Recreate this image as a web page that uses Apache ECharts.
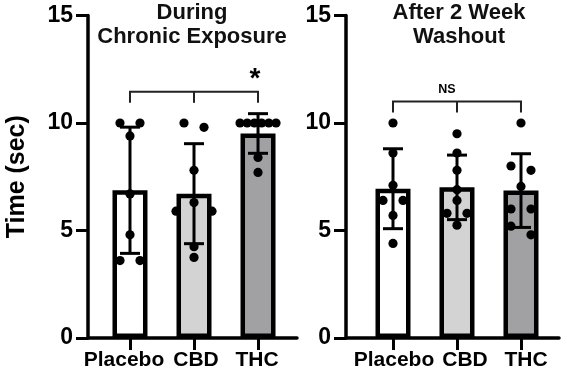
<!DOCTYPE html>
<html><head><meta charset="utf-8">
<script src="https://cdn.jsdelivr.net/npm/echarts@6/dist/echarts.min.js"></script>
<style>html,body{margin:0;padding:0;background:#fff}#c{width:567px;height:374px}</style>
</head><body><div id="c"></div>
<script>
// ---- data ----
const categories = ['Placebo', 'CBD', 'THC'];
const yTicks = [0, 5, 10, 15];
const panelTitles = ['During\nChronic Exposure', 'After 2 Week\nWashout'];
const yAxisTitle = 'Time (sec)';
// individual values (sec)
const chronicPlacebo = [10, 10, 9.4, 6.7, 4.8, 3.6, 3.6];
const chronicCBD = [10, 9.8, 7.8, 6.3, 5.9, 5.9, 4.25, 3.75];
const chronicTHC = [10, 10, 10, 10, 10, 10, 8.4, 7.7];
const washoutPlacebo = [10, 8.6, 7.1, 6.4, 6.4, 5.7, 4.4];
const washoutCBD = [9.5, 8.6, 7.8, 6.9, 6.4, 5.8, 5.8, 5.25];
const washoutTHC = [10, 8.0, 7.8, 7.05, 6.0, 6.0, 5.2, 4.8];
const significanceLabels = ['*', 'NS'];
const bracketLevels = [11.45, 11.0];

// ---- styling ----
const FONT = '"Liberation Sans", Arial, sans-serif';
const barColors = ['#ffffff', '#d3d3d3', '#a1a1a4'];
const panels = [
  { groups: [chronicPlacebo, chronicCBD, chronicTHC], grid: { left: 88, right: 270, top: 15.5, bottom: 36 }, xMin: 0.344, xMax: 3.609, titleX: 192, labelShift: [-6, 2, -1], sigDX: -3, sigDY: -27, sigFont: 28 },
  { groups: [washoutPlacebo, washoutCBD, washoutTHC], grid: { left: 346, right: 8, top: 15.5, bottom: 36 }, xMin: 0.2656, xMax: 3.594, titleX: 459, labelShift: [1, 8, 5], sigDX: -10, sigDY: -12, sigFont: 12.5 }
];

function mean(a) { return a.reduce((s, v) => s + v, 0) / a.length; }
function sd(a) { const m = mean(a); return Math.sqrt(a.reduce((s, v) => s + (v - m) * (v - m), 0) / (a.length - 1)); }

// symmetric row-based dot layout (pixel offsets computed from values)
function swarm(vals) {
  const sorted = vals.slice().sort((a, b) => b - a);
  const rows = [];
  sorted.forEach(v => {
    const r = rows[rows.length - 1];
    if (r && r[0] - v < 0.45) r.push(v); else rows.push([v]);
  });
  const out = [];
  rows.forEach(r => {
    const n = r.length;
    if (n === 1) { out.push([r[0], 0]); return; }
    const width = Math.min((n - 1) * 20, 36);
    const step = width / (n - 1);
    const offs = [];
    for (let i = 0; i < n; i++) offs.push((i - (n - 1) / 2) * step);
    offs.sort((a, b) => Math.abs(a) - Math.abs(b) || a - b);
    r.forEach((v, i) => out.push([v, offs[i]]));
  });
  return out;
}

const grids = [], xAxes = [], yAxes = [], series = [], titles = [];
panels.forEach((p, pi) => {
  grids.push(p.grid);
  const rich = {};
  p.labelShift.forEach((s, i) => {
    rich['c' + i] = { fontSize: 21, fontWeight: 'bold', color: '#000', fontFamily: FONT,
      padding: s >= 0 ? [0, 0, 0, 2 * s] : [0, -2 * s, 0, 0] };
  });
  xAxes.push({
    type: 'value', gridIndex: pi, min: p.xMin, max: p.xMax,
    axisLine: { show: true, onZero: true, lineStyle: { color: '#000', width: 3.5 } },
    axisTick: { show: true, customValues: [1, 2, 3], length: 12, lineStyle: { color: '#000', width: 3 } },
    axisLabel: { show: true, customValues: [1, 2, 3], hideOverlap: false, showMinLabel: true, showMaxLabel: true,
      formatter: v => { const i = Math.round(v) - 1; return '{c' + i + '|' + categories[i] + '}'; },
      rich: rich, margin: 12,
      fontSize: 21, fontWeight: 'bold', color: '#000', fontFamily: FONT },
    splitLine: { show: false }
  });
  yAxes.push({
    type: 'value', gridIndex: pi, min: yTicks[0], max: yTicks[yTicks.length - 1], interval: 5,
    name: pi === 0 ? yAxisTitle : '', nameLocation: 'middle', nameGap: 58,
    nameTextStyle: { fontSize: 25, fontWeight: 'bold', color: '#000', fontFamily: FONT },
    axisLine: { show: true, onZero: false, lineStyle: { color: '#000', width: 3.5 } },
    axisTick: { show: true, length: 12, lineStyle: { color: '#000', width: 3 } },
    axisLabel: { margin: 15, hideOverlap: false, fontSize: 23, fontWeight: 'bold', color: '#000', fontFamily: FONT },
    splitLine: { show: false }
  });
  titles.push({
    text: panelTitles[pi], left: p.titleX, top: 1, textAlign: 'center', padding: 0,
    textStyle: { fontSize: 22, fontWeight: 'bold', color: '#111', lineHeight: 24, fontFamily: FONT }
  });

  // bars
  series.push({
    type: 'bar', xAxisIndex: pi, yAxisIndex: pi, barWidth: 35, z: 2,
    data: p.groups.map((g, i) => ({ value: [i + 1, mean(g)], itemStyle: { color: barColors[i] } })),
    itemStyle: { borderColor: '#000', borderWidth: 4.5 }
  });
  // error bars (mean ± SD)
  series.push({
    type: 'custom', xAxisIndex: pi, yAxisIndex: pi, z: 3,
    data: p.groups.map((g, i) => [i + 1, mean(g), sd(g)]),
    renderItem: (params, api) => {
      const x = api.value(0), m = api.value(1), s = api.value(2);
      const t = api.coord([x, m + s]), b = api.coord([x, m - s]);
      const hw = 10, st = { stroke: '#000', lineWidth: 3 };
      return { type: 'group', children: [
        { type: 'line', shape: { x1: t[0], y1: t[1], x2: b[0], y2: b[1] }, style: st },
        { type: 'line', shape: { x1: t[0] - hw, y1: t[1], x2: t[0] + hw, y2: t[1] }, style: st },
        { type: 'line', shape: { x1: b[0] - hw, y1: b[1], x2: b[0] + hw, y2: b[1] }, style: st }
      ] };
    }
  });
  // individual points
  const dots = [];
  p.groups.forEach((g, i) => swarm(g).forEach(([v, off]) => dots.push([i + 1, v, off])));
  series.push({
    type: 'custom', xAxisIndex: pi, yAxisIndex: pi, z: 4,
    data: dots,
    renderItem: (params, api) => {
      const c = api.coord([api.value(0), api.value(1)]);
      return { type: 'circle', shape: { cx: c[0] + api.value(2), cy: c[1], r: 4.6 }, style: { fill: '#000' } };
    }
  });
  // comparison bracket + label
  series.push({
    type: 'custom', xAxisIndex: pi, yAxisIndex: pi, z: 5, clip: false,
    data: [[1, 3, bracketLevels[pi]]],
    renderItem: (params, api) => {
      const a = api.coord([api.value(0), api.value(2)]);
      const b = api.coord([api.value(1), api.value(2)]);
      const midX = (a[0] + b[0]) / 2, y = a[1], drop = 11;
      const st = { stroke: '#222', lineWidth: 2, fill: null };
      const lx = (pi === 0 ? b[0] : midX) + p.sigDX;
      return { type: 'group', children: [
        { type: 'polyline', shape: { points: [[a[0], y + drop], [a[0], y], [b[0], y], [b[0], y + drop]] }, style: st },
        { type: 'line', shape: { x1: midX, y1: y, x2: midX, y2: y + drop }, style: st },
        { type: 'text', x: lx, y: y + p.sigDY,
          style: { text: significanceLabels[pi], fill: '#000', font: 'bold ' + p.sigFont + 'px ' + FONT,
            align: 'center', verticalAlign: pi === 0 ? 'top' : 'middle' } }
      ] };
    }
  });
});

const chart = echarts.init(document.getElementById('c'), null, { renderer: 'canvas' });
chart.setOption({
  animation: false,
  backgroundColor: '#fff',
  title: titles,
  grid: grids,
  xAxis: xAxes,
  yAxis: yAxes,
  series: series
});
</script>
</body></html>
